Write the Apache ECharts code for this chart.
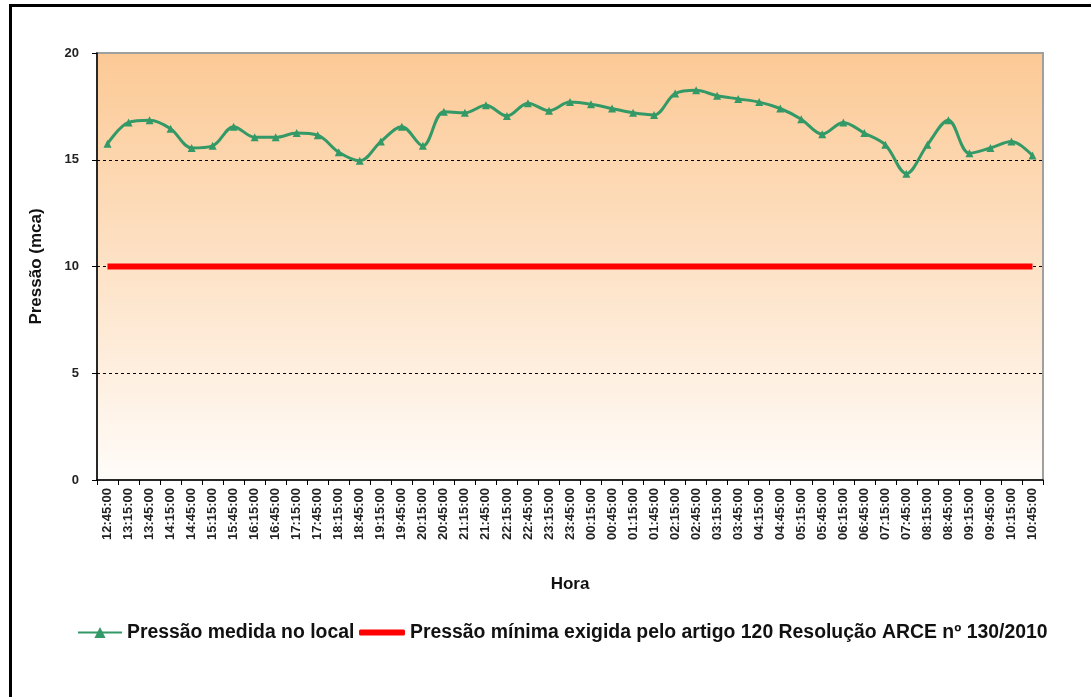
<!DOCTYPE html>
<html>
<head>
<meta charset="utf-8">
<script src="https://cdn.jsdelivr.net/npm/echarts@6/dist/echarts.min.js"></script>
<style>
html,body{margin:0;padding:0;background:#fff;}
#c{width:1091px;height:697px;}
</style>
</head>
<body>
<div id="c"></div>
<script>
const categories = ["12:45:00","13:15:00","13:45:00","14:15:00","14:45:00","15:15:00","15:45:00","16:15:00","16:45:00","17:15:00","17:45:00","18:15:00","18:45:00","19:15:00","19:45:00","20:15:00","20:45:00","21:15:00","21:45:00","22:15:00","22:45:00","23:15:00","23:45:00","00:15:00","00:45:00","01:15:00","01:45:00","02:15:00","02:45:00","03:15:00","03:45:00","04:15:00","04:45:00","05:15:00","05:45:00","06:15:00","06:45:00","07:15:00","07:45:00","08:15:00","08:45:00","09:15:00","09:45:00","10:15:00","10:45:00"];
const pressaoMedida = [15.75,16.75,16.85,16.45,15.55,15.65,16.55,16.05,16.05,16.25,16.15,15.35,14.95,15.85,16.55,15.65,17.25,17.2,17.55,17.05,17.65,17.3,17.7,17.6,17.4,17.2,17.1,18.1,18.25,18.0,17.85,17.7,17.4,16.9,16.2,16.75,16.25,15.7,14.35,15.7,16.85,15.3,15.55,15.85,15.2];
const pressaoMinima = [10,10,10,10,10,10,10,10,10,10,10,10,10,10,10,10,10,10,10,10,10,10,10,10,10,10,10,10,10,10,10,10,10,10,10,10,10,10,10,10,10,10,10,10,10];
const yTicks = {min:0, max:20, interval:5};
const seriesNames = ["Pressão medida no local","Pressão mínima exigida pelo artigo 120 Resolução ARCE nº 130/2010"];

const chart = echarts.init(document.getElementById('c'), null, {renderer:'canvas'});
const font = '"Liberation Sans", Arial, sans-serif';
const legendText = {fontFamily:font, fontWeight:'bold', fontSize:19.4, color:'#111'};
chart.setOption({
  animation:false,
  backgroundColor:'#fff',
  graphic:[{
    type:'rect', left:8, top:3, z:100, silent:true,
    shape:{x:0,y:0,width:1100,height:720},
    style:{fill:'none', stroke:'#000', lineWidth:3}
  }],
  grid:{
    left:97, top:53, right:48, bottom:217,
    show:true,
    borderColor:'#a0a0a0', borderWidth:2,
    backgroundColor:{type:'linear',x:0,y:0,x2:0,y2:1,colorStops:[
      {offset:0,color:'#fcc995'},{offset:0.5,color:'#fde2c6'},{offset:1,color:'#fffcf9'}]}
  },
  legend:[{
    left:77, top:623, padding:0,
    itemWidth:44, itemHeight:14,
    textStyle:legendText,
    data:[seriesNames[0]]
  },{
    left:359, top:623, padding:0,
    itemWidth:46, itemHeight:6,
    textStyle:legendText,
    data:[{name:seriesNames[1], icon:'roundRect'}]
  }],
  xAxis:{
    type:'category', data:categories, boundaryGap:true,
    name:'Hora', nameLocation:'middle', nameGap:96,
    nameTextStyle:{fontFamily:font, fontWeight:'bold', fontSize:17, color:'#111'},
    axisLine:{lineStyle:{color:'#000', width:1.5}},
    axisTick:{show:true, alignWithLabel:false, length:5, lineStyle:{color:'#000'}},
    axisLabel:{rotate:90, margin:8, interval:0, fontFamily:font, fontWeight:'bold', fontSize:13, color:'#222'},
    splitLine:{show:false}
  },
  yAxis:{
    type:'value', min:yTicks.min, max:yTicks.max, interval:yTicks.interval,
    name:'Pressão (mca)', nameLocation:'middle', nameGap:52,
    nameTextStyle:{fontFamily:font, fontWeight:'bold', fontSize:17, color:'#111'},
    axisLine:{show:true, lineStyle:{color:'#000', width:1.5}},
    axisTick:{show:true, length:5, lineStyle:{color:'#000'}},
    axisLabel:{margin:18, fontFamily:font, fontWeight:'bold', fontSize:13, color:'#222'},
    splitLine:{show:true, showMinLine:false, showMaxLine:false, lineStyle:{color:'#000', type:[3,3], width:1}}
  },
  series:[
    {
      name:seriesNames[0], type:'line', data:pressaoMedida, smooth:0.35,
      symbol:'triangle', symbolSize:8, showSymbol:true,
      lineStyle:{color:'#339966', width:3},
      itemStyle:{color:'#339966'},
      z:3
    },
    {
      name:seriesNames[1], type:'line', data:pressaoMinima,
      symbol:'none', lineStyle:{color:'#ff0000', width:6},
      itemStyle:{color:'#ff0000'},
      z:2
    }
  ]
});
</script>
</body>
</html>
